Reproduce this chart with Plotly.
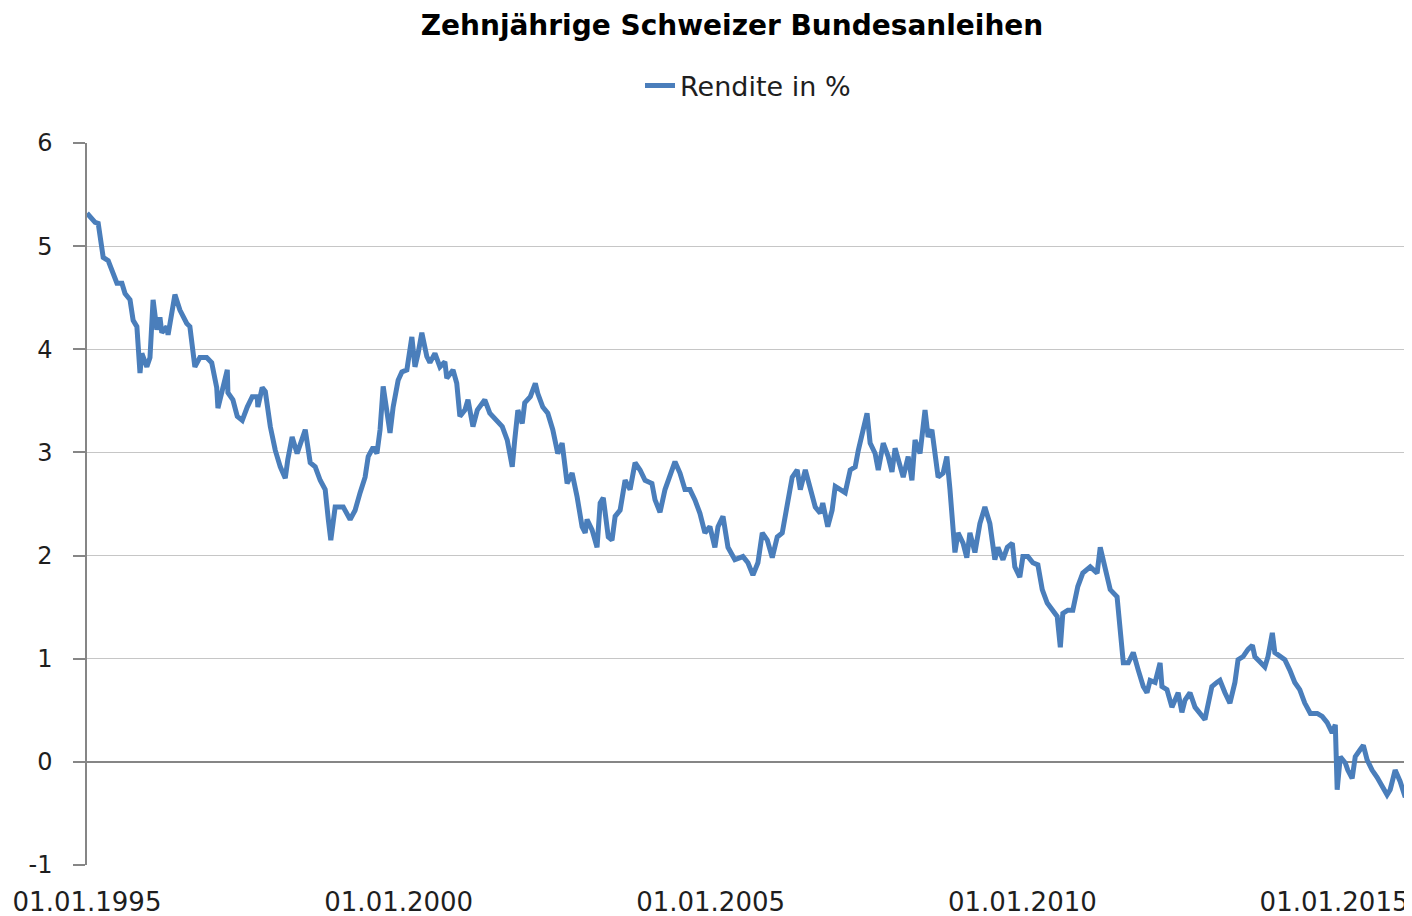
import plotly.graph_objects as go
from datetime import datetime, timedelta

# Decimal-year positions of observations and 10y yield (%)
years = [
    1995.00, 1995.13, 1995.18, 1995.21, 1995.26, 1995.34, 1995.42, 1995.48, 1995.56, 1995.61,
    1995.69, 1995.74, 1995.80, 1995.85, 1995.88, 1995.96, 1996.01, 1996.06, 1996.12, 1996.17,
    1996.20, 1996.28, 1996.30, 1996.41, 1996.49, 1996.60, 1996.65, 1996.73, 1996.81, 1996.92,
    1997.00, 1997.08, 1997.10, 1997.17, 1997.25, 1997.26, 1997.34, 1997.41, 1997.49, 1997.57,
    1997.65, 1997.73, 1997.74, 1997.81, 1997.86, 1997.94, 1998.02, 1998.10, 1998.18, 1998.22,
    1998.29, 1998.37, 1998.45, 1998.50, 1998.58, 1998.66, 1998.74, 1998.82, 1998.87, 1998.91,
    1998.98, 1999.01, 1999.11, 1999.22, 1999.30, 1999.38, 1999.46, 1999.51, 1999.59, 1999.65,
    1999.70, 1999.75, 1999.81, 1999.86, 1999.91, 1999.99, 2000.05, 2000.13, 2000.21, 2000.26,
    2000.31, 2000.37, 2000.45, 2000.50, 2000.58, 2000.66, 2000.74, 2000.77, 2000.87, 2000.93,
    2000.98, 2001.06, 2001.11, 2001.19, 2001.26, 2001.38, 2001.46, 2001.58, 2001.66, 2001.74,
    2001.82, 2001.86, 2001.91, 2001.98, 2002.02, 2002.11, 2002.19, 2002.23, 2002.31, 2002.39,
    2002.47, 2002.55, 2002.62, 2002.70, 2002.78, 2002.86, 2002.94, 2002.99, 2003.02, 2003.10,
    2003.18, 2003.23, 2003.28, 2003.36, 2003.42, 2003.47, 2003.55, 2003.63, 2003.71, 2003.79,
    2003.87, 2003.95, 2004.06, 2004.11, 2004.19, 2004.27, 2004.35, 2004.43, 2004.51, 2004.59,
    2004.67, 2004.75, 2004.83, 2004.91, 2004.99, 2005.07, 2005.12, 2005.20, 2005.28, 2005.39,
    2005.52, 2005.60, 2005.68, 2005.76, 2005.83, 2005.91, 2005.99, 2006.07, 2006.15, 2006.23,
    2006.31, 2006.39, 2006.44, 2006.52, 2006.60, 2006.68, 2006.76, 2006.80, 2006.88, 2006.95,
    2007.00, 2007.08, 2007.16, 2007.24, 2007.32, 2007.37, 2007.43, 2007.51, 2007.56, 2007.64,
    2007.69, 2007.77, 2007.85, 2007.91, 2007.96, 2008.04, 2008.09, 2008.17, 2008.23, 2008.28,
    2008.36, 2008.44, 2008.49, 2008.55, 2008.60, 2008.65, 2008.73, 2008.79, 2008.84, 2008.89,
    2008.92, 2008.97, 2009.05, 2009.11, 2009.16, 2009.24, 2009.32, 2009.40, 2009.48, 2009.56,
    2009.61, 2009.69, 2009.76, 2009.84, 2009.88, 2009.96, 2010.01, 2010.09, 2010.17, 2010.25,
    2010.32, 2010.40, 2010.48, 2010.56, 2010.61, 2010.65, 2010.73, 2010.81, 2010.89, 2010.97,
    2011.09, 2011.20, 2011.25, 2011.33, 2011.41, 2011.52, 2011.57, 2011.62, 2011.70, 2011.78,
    2011.86, 2011.94, 2012.00, 2012.05, 2012.13, 2012.21, 2012.24, 2012.32, 2012.40, 2012.50,
    2012.56, 2012.61, 2012.69, 2012.77, 2012.85, 2012.93, 2012.96, 2013.04, 2013.12, 2013.17,
    2013.25, 2013.33, 2013.41, 2013.46, 2013.54, 2013.62, 2013.69, 2013.73, 2013.81, 2013.89,
    2013.94, 2014.01, 2014.05, 2014.13, 2014.21, 2014.29, 2014.37, 2014.45, 2014.53, 2014.62,
    2014.73, 2014.81, 2014.89, 2014.97, 2015.02, 2015.05, 2015.10, 2015.18, 2015.22, 2015.29,
    2015.34, 2015.42, 2015.47, 2015.53, 2015.61, 2015.69, 2015.77, 2015.85, 2015.90, 2015.98,
    2016.06, 2016.14, 2016.19, 2016.22,
]

rendite = [
    5.32, 5.23, 5.22, 5.06, 4.89, 4.86, 4.74, 4.64, 4.64, 4.54,
    4.48, 4.28, 4.22, 3.77, 3.96, 3.83, 3.92, 4.48, 4.19, 4.31,
    4.16, 4.22, 4.14, 4.53, 4.38, 4.25, 4.22, 3.83, 3.92, 3.92,
    3.87, 3.63, 3.43, 3.63, 3.80, 3.58, 3.51, 3.35, 3.31, 3.44,
    3.54, 3.54, 3.44, 3.63, 3.59, 3.25, 3.02, 2.86, 2.75, 2.93,
    3.15, 2.99, 3.12, 3.22, 2.90, 2.86, 2.73, 2.64, 2.35, 2.15,
    2.47, 2.47, 2.47, 2.35, 2.44, 2.61, 2.76, 2.96, 3.05, 2.99,
    3.22, 3.64, 3.38, 3.19, 3.44, 3.70, 3.78, 3.80, 4.12, 3.83,
    3.96, 4.16, 3.93, 3.87, 3.96, 3.83, 3.88, 3.72, 3.80, 3.67,
    3.35, 3.41, 3.51, 3.25, 3.41, 3.51, 3.38, 3.31, 3.25, 3.12,
    2.86, 3.12, 3.41, 3.28, 3.48, 3.54, 3.67, 3.57, 3.44, 3.38,
    3.22, 2.99, 3.09, 2.70, 2.80, 2.57, 2.28, 2.22, 2.35, 2.25,
    2.08, 2.51, 2.56, 2.18, 2.15, 2.38, 2.44, 2.73, 2.64, 2.90,
    2.83, 2.73, 2.70, 2.54, 2.42, 2.64, 2.76, 2.91, 2.80, 2.64,
    2.64, 2.54, 2.41, 2.22, 2.28, 2.08, 2.28, 2.38, 2.08, 1.96,
    1.99, 1.93, 1.81, 1.93, 2.22, 2.15, 1.98, 2.18, 2.22, 2.47,
    2.76, 2.83, 2.64, 2.83, 2.67, 2.47, 2.41, 2.51, 2.28, 2.44,
    2.67, 2.64, 2.61, 2.83, 2.86, 3.02, 3.19, 3.38, 3.09, 2.99,
    2.83, 3.09, 2.96, 2.81, 3.04, 2.86, 2.76, 2.96, 2.73, 3.12,
    2.99, 3.41, 3.15, 3.22, 2.96, 2.76, 2.80, 2.96, 2.64, 2.28,
    2.03, 2.22, 2.12, 1.98, 2.22, 2.03, 2.31, 2.47, 2.31, 1.96,
    2.08, 1.96, 2.08, 2.12, 1.89, 1.79, 1.99, 1.99, 1.93, 1.91,
    1.67, 1.54, 1.47, 1.41, 1.11, 1.44, 1.47, 1.47, 1.70, 1.83,
    1.89, 1.83, 2.08, 1.86, 1.67, 1.60, 1.31, 0.96, 0.96, 1.06,
    0.89, 0.73, 0.67, 0.79, 0.77, 0.96, 0.73, 0.70, 0.53, 0.67,
    0.48, 0.60, 0.67, 0.53, 0.47, 0.41, 0.50, 0.73, 0.77, 0.79,
    0.67, 0.57, 0.77, 0.99, 1.02, 1.09, 1.13, 1.02, 0.97, 0.92,
    1.02, 1.25, 1.06, 1.02, 0.99, 0.89, 0.77, 0.70, 0.57, 0.47,
    0.47, 0.44, 0.38, 0.28, 0.36, -0.27, 0.05, -0.01, -0.08, -0.16,
    0.05, 0.12, 0.16, 0.02, -0.08, -0.15, -0.24, -0.32, -0.27, -0.08,
    -0.19, -0.34, -0.30, -0.34,
]

tick_dates = ["1995-01-01", "2000-01-01", "2005-01-01", "2010-01-01", "2015-01-01"]
tick_labels = ["01.01.1995", "01.01.2000", "01.01.2005", "01.01.2010", "01.01.2015"]
y_ticks = [-1, 0, 1, 2, 3, 4, 5, 6]
y_tick_labels = ["-1", "0", "1", "2", "3", "4", "5", "6"]
y_range = [-1, 6]
x_start_year = 1995.0
x_end_year = 2016.25

title_text = "Zehnjährige Schweizer Bundesanleihen"
series_name = "Rendite in %"


def to_date(y):
    return datetime(1995, 1, 1) + timedelta(days=(y - 1995.0) * 365.25)


dates = [to_date(y) for y in years]
x_range = [to_date(x_start_year), to_date(x_end_year)]

LINE = "#4A7EBB"
GRID = "#C6C6C6"
AXIS = "#868686"
TEXT = "#1E1E1E"
FONT = "DejaVu Sans"

W, H = 1404, 908  # page adds an 8px body margin

fig = go.Figure()
fig.add_trace(go.Scatter(
    x=dates, y=rendite, mode="lines", name=series_name,
    line=dict(color=LINE, width=5), xaxis="x", yaxis="y",
))

fig.update_layout(
    width=W, height=H,
    margin=dict(l=79, r=0, t=135, b=51, autoexpand=False),
    paper_bgcolor="white", plot_bgcolor="white",
    font=dict(family=FONT, color=TEXT, size=24),
    title=dict(text=title_text, x=724 / W, xanchor="center", xref="container",
               y=1 - 17 / H, yanchor="middle", yref="container", automargin=False,
               font=dict(family=FONT, size=28, color="#000000", weight="bold")),
    showlegend=True,
    legend=dict(orientation="h", xref="container", yref="container",
                x=740 / W, xanchor="center", y=1 - 78 / H, yanchor="middle",
                font=dict(family=FONT, size=27, color=TEXT),
                bgcolor="rgba(0,0,0,0)"),
    xaxis=dict(type="date", range=x_range, tickvals=tick_dates, ticktext=tick_labels,
               ticks="", showgrid=False, showline=False, zeroline=False, automargin=False,
               tickfont=dict(family=FONT, size=26, color=TEXT),
               ticklabelstandoff=19),
    xaxis2=dict(type="date", range=x_range, tickvals=tick_dates, overlaying="x",
                anchor="free", position=1 / 7, side="bottom", automargin=False,
                ticks="outside", ticklen=9, tickwidth=1.5, tickcolor=AXIS,
                showticklabels=False, showgrid=False, showline=False, zeroline=False),
    yaxis=dict(range=y_range, tickvals=y_ticks, ticktext=y_tick_labels,
               showgrid=True, gridcolor=GRID, gridwidth=1, automargin=False,
               zeroline=True, zerolinecolor=AXIS, zerolinewidth=1.5,
               showline=True, linecolor=AXIS, linewidth=1.5,
               ticks="outside", ticklen=12, tickcolor=AXIS, tickwidth=1.5,
               tickfont=dict(family=FONT, size=24, color=TEXT),
               ticklabelstandoff=16),
)

fig.write_html("out.html")
